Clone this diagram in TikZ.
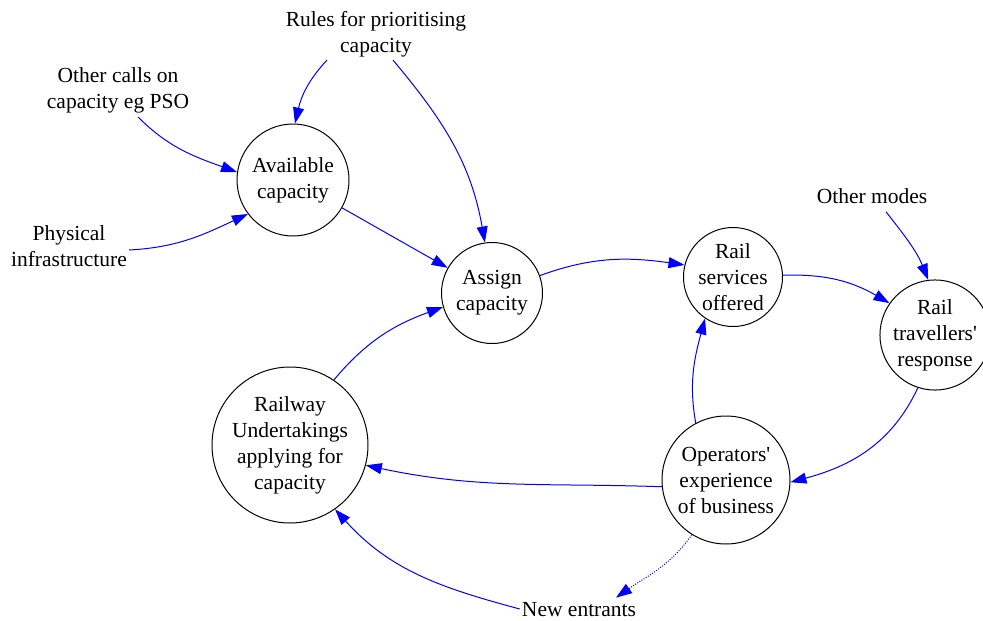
\documentclass[tikz,border=0pt]{standalone}
\usepackage{fontspec}
\setmainfont{Liberation Serif}
\usetikzlibrary{arrows.meta}
\begin{document}
\begin{tikzpicture}[x=1pt,y=1pt,
  circ/.style={circle,draw=black,line width=1pt,inner sep=0pt,align=center,font=\fontsize{21.5}{26}\selectfont},
  lbl/.style={inner sep=0pt,align=center,font=\fontsize{21.5}{26}\selectfont},
  conn/.style={draw=blue,line width=1pt,-{Triangle[length=16pt,width=11pt]}},
  dotconn/.style={conn,dash pattern=on 1pt off 1.5pt}]
\path[use as bounding box] (0,0) rectangle (983,-621);
% circles
\node[circ,minimum size=112pt] (avail) at (293,-180) {Available\\capacity};
\node[circ,minimum size=101pt] (assign) at (492,-293) {Assign\\capacity};
\node[circ,minimum size=99pt] (serv) at (733,-277) {Rail\\services\\offered};
\node[circ,minimum size=110pt] (trav) at (935,-335) {Rail\\travellers\textquotesingle\\response};
\node[circ,minimum size=156pt] (rail) at (290,-445) {Railway\\Undertakings\\applying for\\capacity};
\node[circ,minimum size=128pt] (oper) at (726,-480) {Operators\textquotesingle\\experience\\of business};
% labels
\node[lbl] (rules) at (376,-34) {Rules for prioritising\\capacity};
\node[lbl] (calls) at (118,-90) {Other calls on\\capacity eg PSO};
\node[lbl] (phys) at (69,-246) {Physical\\infrastructure};
\node[lbl] (modes) at (872,-196) {Other modes};
\node[lbl] (entr) at (579,-610) {New entrants};
% connectors
\draw[conn] ([xshift=-49pt,yshift=-3pt]rules.south) to[out=227,in=77] (avail.88);
\draw[conn] ([xshift=17pt,yshift=-3pt]rules.south) to[out=-50,in=100] (assign.98);
\draw[conn] ([xshift=20pt,yshift=-4pt]calls.south) to[out=-45,in=160] (avail.172);
\draw[conn] ([xshift=2pt,yshift=-4pt]phys.east) to[out=3,in=205] (avail.217);
\draw[conn] (avail) -- (assign);
\draw[conn] (assign.20) to[out=20,in=172] (serv.166);
\draw[conn] (rail.56) to[out=50,in=200] (assign.196);
\draw[conn] (serv.2) to[out=2,in=150] (trav.145);
\draw[conn] ([xshift=14pt,yshift=-8pt]modes.south) to[out=-52,in=112] (trav.97);
\draw[conn] (trav.252) to[out=245,in=15] (oper.-2);
\draw[conn] (oper.118) to[out=100,in=-105] (serv.236);
\draw[conn] (oper.186) to[out=178,in=-12] (rail.-15);
\draw[conn] ([xshift=-2pt,yshift=1pt]entr.west) to[out=165,in=-48] (rail.-55);
\draw[dotconn] (oper.238) to[out=235,in=35] ([xshift=37pt,yshift=5pt]entr.north);
\end{tikzpicture}
\end{document}
